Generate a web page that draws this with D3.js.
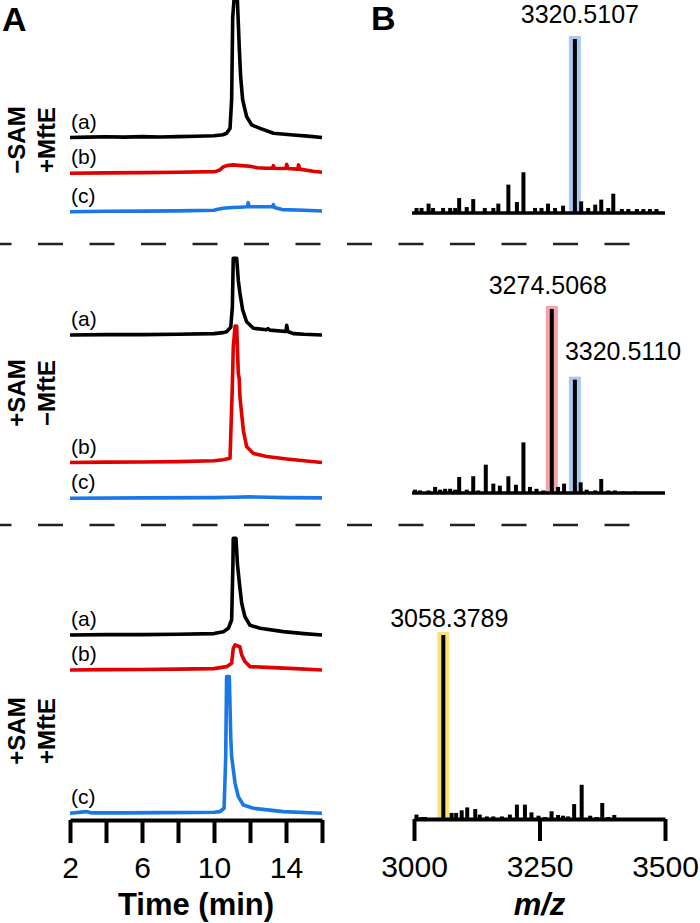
<!DOCTYPE html>
<html><head><meta charset="utf-8">
<script src="https://cdn.jsdelivr.net/npm/d3@7"></script>
<style>
body{margin:0;background:#fff}
svg{display:block;font-family:"Liberation Sans",Arial,Helvetica,sans-serif}
</style>
</head><body>
<svg id="chart" width="700" height="923"></svg>
<script>
// ---------------- DATA ----------------
const timeTicks = [2, 4, 6, 8, 10, 12, 14, 16];
const timeTickLabels = ["2", "", "6", "", "10", "", "14", ""];
const mzTicks = [3000, 3250, 3500];
const mzTickLabels = ["3000", "3250", "3500"];
const conditionTop = ["−SAM", "+SAM", "+SAM"];
const conditionBottom = ["+MftE", "−MftE", "+MftE"];
const traceNames = ["(a)", "(b)", "(c)"];

// chromatograms [time (min), relative intensity]
const lc1a = [[2,0],[3,0.3],[4,0.5],[5,0.3],[6,0.6],[7,0.4],[8,0.6],[9,0.9],[10,1.2],[10.5,2],[10.7,3],[10.89,6.5],[10.98,27],[11.04,86],[11.11,98],[11.22,98],[11.3,98],[11.41,62.5],[11.48,43.5],[11.59,27],[11.81,15],[12.09,9],[12.56,6.5],[13.3,3],[14.4,1.8],[15.2,1],[16,0]];
const lc1b = [[2,0],[4,0.3],[6,0.5],[8,0.7],[10,1.2],[10.15,1.5],[10.33,2.5],[10.5,4.5],[10.7,5.5],[11.05,6],[11.5,5.5],[12,5],[12.4,4],[12.9,3.6],[13.25,3.6],[13.3,5.5],[13.35,3.6],[14,3.4],[14.04,6.4],[14.1,3.4],[14.65,3],[14.7,6],[14.76,3],[15.5,1.5],[16,0.7]];
const lc1c = [[2,0],[4,0.3],[6,0.4],[8,0.6],[10,1],[10.15,1.5],[10.5,2.5],[11,3],[11.44,3.2],[11.85,3.5],[11.9,6.4],[11.95,3.5],[12.56,3.5],[13.25,3.5],[13.3,5],[13.35,3],[13.8,1.5],[15,1],[16,0.5]];
const lc2a = [[2,0],[4,0.3],[6,0.3],[8,0.5],[10,1],[10.5,1.7],[10.7,2.4],[10.93,5.5],[11.02,20],[11.07,54.8],[11.26,54.8],[11.35,39],[11.44,30],[11.59,18],[11.81,9.5],[12.19,4.8],[12.93,3.8],[13,4.5],[13.1,3.5],[14,2.5],[14.04,7],[14.1,2.5],[14.41,1],[15,0.5],[16,0]];
const lc2b = [[2,0],[4,0.3],[6,0.4],[8,0.6],[10,1.2],[10.5,2],[10.89,3],[11.02,55],[11.07,82],[11.17,97.5],[11.26,97.5],[11.35,63.5],[11.4,60],[11.44,47],[11.63,23],[11.81,11.5],[12.19,6.4],[12.93,4.3],[14.04,2.5],[15,1.2],[16,0]];
const lc2c = [[2,0],[6,0.3],[10,0.5],[11,0.8],[12,1],[13,0.8],[14,0.5],[16,0.3]];
const lc3a = [[2,0],[4,0.3],[6,0.3],[8,0.5],[10,1],[10.52,2.4],[10.8,4.8],[10.98,10.7],[11.05,50],[11.07,69],[11.22,69],[11.3,51],[11.41,37],[11.54,22.6],[11.72,13],[12,7],[12.56,4.8],[13.85,2.4],[15,1],[16,0]];
const lc3b = [[2,0],[4,0.3],[6,0.4],[8,0.6],[10,1],[10.7,2.4],[10.98,4.8],[11.07,15.5],[11.17,17.9],[11.44,16.6],[11.54,10.7],[11.72,6],[12,2.4],[12.93,1.9],[14.5,1],[16,0]];
const lc3c = [[2,0],[2.9,1.2],[3.2,0.3],[5,0.3],[7,0.5],[9,0.6],[10,0.8],[10.33,1.2],[10.56,3.6],[10.65,40],[10.7,97.6],[10.85,97.6],[10.93,54.8],[10.98,40.5],[11.17,21.4],[11.35,11.9],[11.63,5.9],[12.19,3.6],[13.85,1.2],[16,0]];

// mass spectra [m/z, relative intensity]
const ms1 = [[3005,2.9],[3015,2.9],[3029,5.4],[3038,2.9],[3058,2.9],[3072,2.9],[3082,2.9],[3090,8.6],[3105,3.4],[3118,8.0],[3141,2.9],[3158,2.9],[3168,5.4],[3188,16.3],[3205,6.3],[3218,23.4],[3241,2.9],[3254,2.9],[3267,5.4],[3281,2.9],[3297,4.2],[3320.5107,100],[3333,6.7],[3347,2.9],[3361,4.8],[3373,7.7],[3387,2.9],[3397,11.1],[3414,2.3],[3427,2.3],[3444,2.3],[3457,2.3],[3470,2.3],[3483,2.3]];
const ms2 = [[3002,1.8],[3012,1.4],[3029,1.4],[3042,3.3],[3052,1.8],[3062,2.3],[3072,2.3],[3082,1.8],[3090,8.7],[3105,1.8],[3118,9.1],[3128,1.4],[3143,15.4],[3158,5.1],[3171,4.0],[3188,9.1],[3203,4.5],[3218,27.5],[3231,3.3],[3244,2.3],[3258,1.4],[3274.5068,100],[3287,3.3],[3299,5.1],[3320.5110,61.6],[3332,5.8],[3344,1.8],[3361,1.4],[3373,7.6],[3387,1.4],[3400,1.4],[3417,0.9],[3440,0.9]];
const ms3 = [[3005,2.4],[3015,1.1],[3022,1.1],[3058.3789,100],[3075,3.3],[3084,3.3],[3095,4.7],[3106,6.3],[3122,5.4],[3131,2.4],[3145,1.4],[3158,1.4],[3175,1.4],[3191,2.4],[3205,7.8],[3221,7.8],[3234,3.6],[3248,1.8],[3261,1.1],[3274,4.2],[3287,2.2],[3297,1.8],[3307,1.4],[3319,8.1],[3334,18.6],[3351,1.8],[3364,1.1],[3375,8.7],[3387,1.1],[3399,2.2]];

// highlighted peaks [m/z, relative intensity, label]
const peaks1 = [[3320.5107, 100, "3320.5107"]];
const peaks2 = [[3274.5068, 100, "3274.5068"], [3320.5110, 61.6, "3320.5110"]];
const peaks3 = [[3058.3789, 100, "3058.3789"]];

// ---------------- LAYOUT / STYLE ----------------
const traceColors = ["#000000", "#e00000", "#1a78e6"];
const lcGroups = [
  {traces: [lc1a, lc1b, lc1c], bases: [137.5, 173.3, 211.7], labelCY: 140},
  {traces: [lc2a, lc2b, lc2c], bases: [335, 462.5, 498.3], labelCY: 393},
  {traces: [lc3a, lc3b, lc3c], bases: [635, 670, 813.3], labelCY: 731}
];
const msPanels = [
  {data: ms1, peaks: peaks1, base: 213, h: 174, hl: ["#a9c9f0"], lab: [[5, -16, "middle"]]},
  {data: ms2, peaks: peaks2, base: 493, h: 184, hl: ["#f5a3a8", "#a9c9f0"], lab: [[-4, -15, "middle"], [-10, -20, "start"]]},
  {data: ms3, peaks: peaks3, base: 819, h: 184, hl: ["#f7e27a"], lab: [[6, -8.5, "middle"]]}
];

const svg = d3.select("#chart");
const xT = d3.scaleLinear().domain([2, 16]).range([70, 322]);
const yI = d3.scaleLinear().domain([0, 100]).range([0, 140]);
const xM = d3.scaleLinear().domain([3000, 3500]).range([414, 665]);

// panel letters
svg.append("text").attr("x", 2).attr("y", 31).attr("font-size", 34).attr("font-weight", "bold").text("A");
svg.append("text").attr("x", 371).attr("y", 30).attr("font-size", 34).attr("font-weight", "bold").text("B");

// dashed separators
[244, 525].forEach(y => {
  svg.append("line").attr("x1", 0).attr("x2", 656).attr("y1", y).attr("y2", y)
    .attr("stroke", "#222").attr("stroke-width", 2.5)
    .attr("stroke-dasharray", "25,26.5").attr("stroke-dashoffset", 13.5);
});

// chromatograms
lcGroups.forEach((g, gi) => {
  g.traces.forEach((tr, ti) => {
    const base = g.bases[ti];
    const line = d3.line().x(d => xT(d[0])).y(d => base - yI(d[1]));
    svg.append("path").datum(tr).attr("d", line).attr("fill", "none")
      .attr("stroke", traceColors[ti]).attr("stroke-width", 3.6)
      .attr("stroke-linejoin", "round").attr("stroke-linecap", "butt");
    svg.append("text").attr("x", 71).attr("y", base - 9).attr("font-size", 21).text(traceNames[ti]);
  });
  svg.append("text").attr("transform", `translate(25,${g.labelCY}) rotate(-90)`)
    .attr("text-anchor", "middle").attr("font-size", 24).attr("font-weight", "bold").text(conditionTop[gi]);
  svg.append("text").attr("transform", `translate(55,${g.labelCY}) rotate(-90)`)
    .attr("text-anchor", "middle").attr("font-size", 24).attr("font-weight", "bold").text(conditionBottom[gi]);
});

// time axis
const axA = svg.append("g").attr("transform", "translate(0,820)")
  .call(d3.axisBottom(xT).tickValues(timeTicks).tickSize(23).tickSizeOuter(0).tickPadding(14)
    .tickFormat((d, i) => timeTickLabels[i]));
axA.attr("font-size", 30).attr("font-family", null);
axA.select(".domain").attr("stroke", "#000").attr("stroke-width", 4);
axA.selectAll(".tick line").attr("stroke", "#000").attr("stroke-width", 4);
axA.selectAll(".tick text").attr("fill", "#000");
svg.append("text").attr("x", xT(9)).attr("y", 915).attr("text-anchor", "middle")
  .attr("font-size", 31).attr("font-weight", "bold").text("Time (min)");

// mass spectra
msPanels.forEach((p, pi) => {
  const yS = d3.scaleLinear().domain([0, 100]).range([p.base, p.base - p.h]);
  p.peaks.forEach((pk, k) => {
    svg.append("rect").attr("x", xM(pk[0]) - 6).attr("width", 12)
      .attr("y", yS(pk[1]) - 3).attr("height", p.base - yS(pk[1]) + 3)
      .attr("fill", p.hl[k]);
  });
  svg.append("g").selectAll("line").data(p.data).join("line")
    .attr("x1", d => xM(d[0])).attr("x2", d => xM(d[0]))
    .attr("y1", p.base).attr("y2", d => yS(d[1]))
    .attr("stroke", "#000").attr("stroke-width", 4);
  if (pi < 2) {
    svg.append("line").attr("x1", xM(3000) - 2).attr("x2", xM(3500)).attr("y1", p.base).attr("y2", p.base)
      .attr("stroke", "#000").attr("stroke-width", 3.5);
  }
  p.peaks.forEach((pk, k) => {
    const l = p.lab[k];
    svg.append("text").attr("x", xM(pk[0]) + l[0]).attr("y", yS(pk[1]) + l[1])
      .attr("text-anchor", l[2]).attr("font-size", 25).text(pk[2]);
  });
});

// m/z axis
const axB = svg.append("g").attr("transform", "translate(0,819)")
  .call(d3.axisBottom(xM).tickValues(mzTicks).tickSize(22).tickSizeOuter(0).tickPadding(15)
    .tickFormat((d, i) => mzTickLabels[i]));
axB.attr("font-size", 30).attr("font-family", null);
axB.select(".domain").attr("stroke", "#000").attr("stroke-width", 4);
axB.selectAll(".tick line").attr("stroke", "#000").attr("stroke-width", 4);
axB.selectAll(".tick text").attr("fill", "#000");
svg.append("text").attr("x", xM(3250)).attr("y", 915).attr("text-anchor", "middle")
  .attr("font-size", 31).attr("font-weight", "bold").attr("font-style", "italic").text("m/z");
</script>
</body></html>
